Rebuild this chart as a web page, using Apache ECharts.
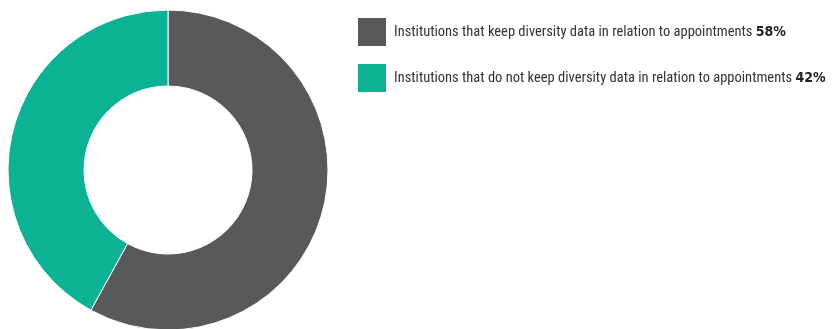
<!DOCTYPE html>
<html><head><meta charset="utf-8">
<script src="https://cdn.jsdelivr.net/npm/echarts@6/dist/echarts.min.js"></script>
<style>html,body{margin:0;padding:0;background:#fff}#c{width:833px;height:329px}</style>
</head><body><div id="c"></div>
<script>
const categories = ['Institutions that keep diversity data in relation to appointments', 'Institutions that do not keep diversity data in relation to appointments'];
const values = [58, 42];
const colors = ['#58595b', '#0bb394'];
const chart = echarts.init(document.getElementById('c'));
chart.setOption({
  animation: false,
  color: colors,
  legend: {
    orient: 'vertical', left: 356, top: 16, padding: 0,
    itemWidth: 30, itemHeight: 30, itemGap: 14,
    icon: 'rect',
    selectedMode: false,
    formatter: function (name) {
      const i = categories.indexOf(name);
      return name + ' {b|' + values[i] + '%}';
    },
    textStyle: {
      fontFamily: '"Liberation Sans Narrow", "Roboto Condensed", "DejaVu Sans Condensed", sans-serif',
      fontSize: 14.5, color: '#333', padding: [0, 0, 0, 2],
      rich: { b: { fontWeight: 'bold', fontSize: 14, color: '#222', fontFamily: '"Liberation Sans Narrow", "DejaVu Sans Condensed", sans-serif' } }
    }
  },
  series: [{
    type: 'pie',
    center: [168, 170],
    radius: [84, 160],
    startAngle: 90,
    clockwise: true,
    label: { show: false },
    labelLine: { show: false },
    itemStyle: { borderColor: '#fff', borderWidth: 1 },
    data: categories.map((n, i) => ({ name: n, value: values[i] }))
  }]
});
</script></body></html>
